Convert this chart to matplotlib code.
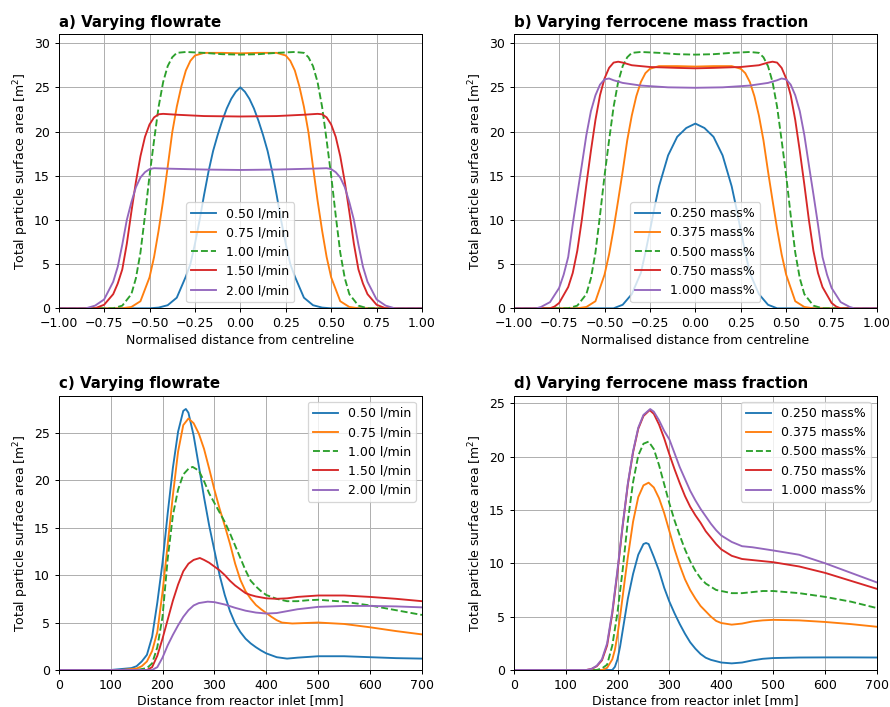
import matplotlib
matplotlib.use("Agg")
import matplotlib.pyplot as plt
import numpy as np

# ---- radial profiles (left half, x <= 0); right half is the mirror image
xa_blue = [-1, -0.5, -0.45, -0.4, -0.35, -0.3, -0.275, -0.25, -0.225, -0.2, -0.175, -0.15, -0.125, -0.1, -0.075, -0.05, -0.025, 0]
ya_blue = [0, 0, 0.08, 0.35, 1.2, 3.6, 5.0, 7.3, 9.9, 12.8, 15.5, 17.8, 19.6, 21.2, 22.6, 23.7, 24.5, 25.0]
xa_orange = [-1, -0.65, -0.6, -0.55, -0.5, -0.475, -0.45, -0.425, -0.4, -0.375, -0.35, -0.325, -0.3, -0.275, -0.25, -0.2, -0.1, 0]
ya_orange = [0, 0, 0.15, 0.8, 3.5, 5.8, 8.8, 12.2, 16.0, 19.9, 22.8, 25.1, 26.9, 28.0, 28.6, 28.9, 28.9, 28.85]
xa_green = [-1, -0.7, -0.65, -0.6, -0.575, -0.55, -0.525, -0.5, -0.475, -0.45, -0.425, -0.4, -0.375, -0.35, -0.3, -0.2, -0.1, 0]
ya_green = [0, 0, 0.3, 1.6, 3.4, 6.3, 10.5, 15.0, 19.0, 22.8, 25.6, 27.4, 28.4, 28.9, 29.0, 28.9, 28.75, 28.7]
xa_red = [-1, -0.8, -0.75, -0.7, -0.675, -0.65, -0.625, -0.6, -0.575, -0.55, -0.525, -0.5, -0.475, -0.45, -0.425, -0.35, -0.2, 0]
ya_red = [0, 0, 0.4, 1.6, 2.8, 4.4, 7.3, 10.9, 14.3, 17.2, 19.4, 20.8, 21.6, 21.95, 22.0, 21.9, 21.75, 21.7]
xa_purple = [-1, -0.85, -0.8, -0.75, -0.7, -0.675, -0.65, -0.625, -0.6, -0.575, -0.55, -0.525, -0.5, -0.475, -0.4, -0.2, 0]
ya_purple = [0, 0, 0.3, 1.0, 3.0, 4.7, 7.2, 10.0, 12.0, 13.7, 14.8, 15.4, 15.75, 15.85, 15.8, 15.7, 15.65]

xb_blue = [-1, -0.45, -0.4, -0.35, -0.3, -0.275, -0.25, -0.225, -0.2, -0.15, -0.1, -0.05, 0]
yb_blue = [0, 0, 0.4, 1.6, 4.0, 6.3, 8.8, 11.4, 13.8, 17.3, 19.4, 20.4, 20.9]
xb_orange = [-1, -0.65, -0.6, -0.55, -0.5, -0.475, -0.45, -0.425, -0.4, -0.375, -0.35, -0.325, -0.3, -0.275, -0.25, -0.2, -0.1, 0]
yb_orange = [0, 0, 0.15, 0.8, 3.8, 6.1, 9.0, 12.2, 15.5, 19.0, 21.8, 24.0, 25.6, 26.6, 27.1, 27.4, 27.4, 27.35]
xb_green = xa_green
yb_green = ya_green
xb_red = [-1, -0.8, -0.775, -0.75, -0.7, -0.675, -0.65, -0.625, -0.6, -0.575, -0.55, -0.525, -0.5, -0.475, -0.45, -0.425, -0.4, -0.35, -0.25, -0.1, 0]
yb_red = [0, 0, 0.2, 0.6, 2.4, 4.0, 6.5, 10.0, 14.0, 17.8, 21.3, 24.1, 26.0, 27.2, 27.8, 27.9, 27.8, 27.5, 27.3, 27.2, 27.15]
xb_purple = [-1, -0.875, -0.85, -0.8, -0.75, -0.725, -0.7, -0.675, -0.65, -0.625, -0.6, -0.575, -0.55, -0.525, -0.5, -0.475, -0.45, -0.4, -0.3, -0.15, 0]
yb_purple = [0, 0, 0.15, 0.7, 2.3, 3.8, 5.8, 9.5, 12.9, 16.2, 19.6, 22.3, 24.1, 25.3, 25.9, 26.0, 25.8, 25.5, 25.2, 25.0, 24.95]

# ---- axial profiles
xc_blue = [0, 100, 140, 150, 160, 170, 180, 190, 200, 210, 220, 230, 240, 245, 250, 260, 270, 280, 290, 300, 310, 320, 330, 340, 350, 360, 370, 380, 390, 400, 420, 440, 460, 500, 550, 600, 650, 700]
yc_blue = [0, 0, 0.2, 0.4, 0.9, 1.6, 3.5, 7.1, 11.3, 16.5, 21.3, 25.1, 27.3, 27.5, 27.1, 24.7, 21.5, 18.2, 15.2, 12.6, 10.0, 7.9, 6.2, 4.9, 4.0, 3.3, 2.8, 2.4, 2.05, 1.75, 1.35, 1.2, 1.3, 1.45, 1.45, 1.35, 1.25, 1.2]
xc_orange = [0, 120, 150, 160, 170, 180, 190, 200, 210, 220, 230, 240, 250, 260, 270, 280, 290, 300, 310, 320, 330, 340, 350, 360, 370, 380, 390, 400, 410, 420, 430, 450, 500, 550, 600, 650, 700]
yc_orange = [0, 0, 0.15, 0.4, 0.9, 2.0, 4.0, 8.2, 13.2, 18.4, 23.0, 25.8, 26.5, 26.0, 24.9, 23.3, 21.2, 19.0, 17.0, 15.2, 13.3, 11.2, 9.5, 8.3, 7.5, 6.85, 6.4, 6.0, 5.6, 5.25, 5.0, 4.9, 5.0, 4.85, 4.5, 4.1, 3.75]
xc_green = [0, 150, 170, 180, 190, 200, 210, 220, 230, 240, 250, 258, 270, 280, 290, 300, 310, 320, 330, 340, 350, 360, 370, 380, 390, 400, 420, 440, 460, 480, 500, 550, 600, 650, 700]
yc_green = [0, 0, 0.2, 0.7, 2.4, 5.6, 11.7, 16.3, 19.0, 20.6, 21.2, 21.4, 21.0, 19.9, 18.6, 17.6, 16.6, 15.6, 14.4, 13.1, 11.8, 10.5, 9.4, 8.8, 8.3, 7.9, 7.5, 7.25, 7.25, 7.35, 7.4, 7.2, 6.8, 6.3, 5.8]
xc_red = [0, 170, 180, 190, 200, 210, 220, 230, 240, 250, 260, 272, 280, 290, 300, 310, 320, 330, 340, 350, 360, 370, 380, 390, 400, 420, 440, 460, 500, 550, 600, 650, 700]
yc_red = [0, 0, 0.3, 1.5, 3.3, 5.3, 7.3, 9.0, 10.4, 11.2, 11.6, 11.8, 11.6, 11.3, 10.9, 10.5, 10.0, 9.4, 8.9, 8.5, 8.1, 7.9, 7.75, 7.65, 7.55, 7.5, 7.55, 7.7, 7.85, 7.85, 7.7, 7.5, 7.25]
xc_purple = [0, 180, 190, 200, 210, 220, 230, 240, 250, 260, 270, 287, 300, 320, 340, 360, 380, 400, 420, 440, 460, 500, 550, 600, 650, 700]
yc_purple = [0, 0, 0.3, 1.3, 2.6, 3.7, 4.7, 5.6, 6.3, 6.8, 7.05, 7.2, 7.15, 6.9, 6.55, 6.25, 6.05, 5.95, 6.0, 6.2, 6.4, 6.65, 6.75, 6.75, 6.7, 6.6]

xd_blue = [0, 190, 195, 200, 205, 210, 215, 220, 230, 240, 250, 255, 260, 270, 280, 290, 300, 310, 320, 330, 340, 350, 360, 370, 380, 400, 420, 440, 460, 480, 500, 550, 600, 650, 700]
yd_blue = [0, 0, 0.3, 1.0, 2.2, 3.7, 5.2, 6.7, 9.0, 10.8, 11.8, 11.9, 11.8, 10.6, 9.3, 7.7, 6.4, 5.3, 4.3, 3.4, 2.6, 2.0, 1.5, 1.15, 0.95, 0.7, 0.62, 0.7, 0.9, 1.05, 1.12, 1.17, 1.18, 1.18, 1.17]
xd_orange = [0, 170, 180, 190, 195, 200, 205, 210, 215, 220, 230, 240, 250, 260, 270, 280, 290, 300, 310, 320, 330, 340, 350, 360, 370, 380, 390, 400, 420, 440, 460, 480, 500, 550, 600, 650, 700]
yd_orange = [0, 0, 0.2, 1.0, 1.9, 3.3, 5.0, 6.9, 8.8, 10.6, 13.9, 16.2, 17.3, 17.55, 17.1, 16.1, 14.7, 13.0, 11.3, 9.8, 8.5, 7.5, 6.7, 6.0, 5.5, 5.0, 4.6, 4.4, 4.25, 4.35, 4.55, 4.65, 4.7, 4.65, 4.5, 4.3, 4.05]
xd_green = [0, 160, 170, 180, 190, 200, 210, 220, 230, 240, 250, 260, 270, 280, 290, 300, 310, 320, 330, 340, 350, 360, 370, 380, 390, 400, 420, 440, 460, 480, 500, 550, 600, 650, 700]
yd_green = [0, 0, 0.15, 0.5, 2.3, 5.4, 9.4, 14.0, 17.6, 20.1, 21.2, 21.4, 20.7, 19.2, 17.4, 15.6, 14.0, 12.6, 11.3, 10.2, 9.3, 8.6, 8.1, 7.8, 7.5, 7.4, 7.2, 7.2, 7.3, 7.4, 7.4, 7.2, 6.85, 6.4, 5.8]
xd_red = [0, 140, 150, 160, 170, 180, 190, 200, 210, 220, 230, 240, 250, 262, 270, 280, 290, 300, 310, 320, 330, 340, 350, 360, 370, 380, 390, 400, 420, 440, 460, 480, 500, 550, 600, 650, 700]
yd_red = [0, 0, 0.1, 0.35, 0.9, 2.3, 5.3, 9.2, 13.5, 17.4, 20.4, 22.6, 23.8, 24.35, 24.0, 23.0, 21.7, 20.2, 18.8, 17.5, 16.3, 15.3, 14.5, 13.8, 13.0, 12.4, 11.8, 11.3, 10.7, 10.4, 10.3, 10.2, 10.1, 9.7, 9.1, 8.35, 7.6]
xd_purple = [0, 140, 150, 160, 170, 180, 190, 200, 210, 220, 230, 240, 250, 263, 270, 280, 290, 300, 310, 320, 330, 340, 350, 360, 370, 380, 390, 400, 420, 440, 460, 480, 500, 550, 600, 650, 700]
yd_purple = [0, 0, 0.1, 0.4, 1.0, 2.5, 5.5, 9.4, 13.6, 17.5, 20.5, 22.7, 23.9, 24.45, 24.2, 23.4, 22.4, 21.6, 20.3, 19.0, 17.9, 16.8, 15.9, 15.1, 14.4, 13.7, 13.1, 12.6, 12.0, 11.6, 11.5, 11.35, 11.2, 10.8, 10.0, 9.1, 8.2]

flow_labels = ['0.50 l/min', '0.75 l/min', '1.00 l/min', '1.50 l/min', '2.00 l/min']
mass_labels = ['0.250 mass%', '0.375 mass%', '0.500 mass%', '0.750 mass%', '1.000 mass%']

colors = ['#1f77b4', '#ff7f0e', '#2ca02c', '#d62728', '#9467bd']
styles = ['-', '-', '--', '-', '-']


def mirror(x, y):
    x = np.asarray(x, float)
    y = np.asarray(y, float)
    return np.concatenate([x, -x[-2::-1]]), np.concatenate([y, y[-2::-1]])


fig = plt.figure(figsize=(890/90, 707/90), dpi=90)
ax_a = fig.add_axes([58.7/890, 1-308.3/707, 363.3/890, 274/707])
ax_b = fig.add_axes([513.7/890, 1-308.3/707, 363.3/890, 274/707])
ax_c = fig.add_axes([58.7/890, 1-670/707, 363.3/890, 274.3/707])
ax_d = fig.add_axes([513.7/890, 1-670/707, 363.3/890, 274.3/707])

top_a = [(xa_blue, ya_blue), (xa_orange, ya_orange), (xa_green, ya_green), (xa_red, ya_red), (xa_purple, ya_purple)]
top_b = [(xb_blue, yb_blue), (xb_orange, yb_orange), (xb_green, yb_green), (xb_red, yb_red), (xb_purple, yb_purple)]
bot_c = [(xc_blue, yc_blue), (xc_orange, yc_orange), (xc_green, yc_green), (xc_red, yc_red), (xc_purple, yc_purple)]
bot_d = [(xd_blue, yd_blue), (xd_orange, yd_orange), (xd_green, yd_green), (xd_red, yd_red), (xd_purple, yd_purple)]

for ax, series, labels in [(ax_a, top_a, flow_labels), (ax_b, top_b, mass_labels)]:
    for (x, y), lab, c, ls in zip(series, labels, colors, styles):
        xx, yy = mirror(x, y)
        ax.plot(xx, yy, ls, color=c, lw=1.5, label=lab)
    ax.set_xlim(-1, 1)
    ax.set_ylim(0, 31)
    ax.set_xticks(np.arange(-1, 1.01, 0.25))
    ax.set_xlabel('Normalised distance from centreline', labelpad=3)
    ax.legend(loc='lower center')

for ax, series, labels, ymax in [(ax_c, bot_c, flow_labels, 28.9), (ax_d, bot_d, mass_labels, 25.7)]:
    for (x, y), lab, c, ls in zip(series, labels, colors, styles):
        ax.plot(x, y, ls, color=c, lw=1.5, label=lab)
    ax.set_xlim(0, 700)
    ax.set_ylim(0, ymax)
    ax.set_xlabel('Distance from reactor inlet [mm]', labelpad=1.5)
    ax.legend(loc='upper right')

titles = ['a) Varying flowrate', 'b) Varying ferrocene mass fraction',
          'c) Varying flowrate', 'd) Varying ferrocene mass fraction']
for ax, t in zip([ax_a, ax_b, ax_c, ax_d], titles):
    ax.set_title(t, loc='left', fontweight='bold', fontsize=12)
    ax.set_ylabel('Total particle surface area [m$^2$]', labelpad=2.5)
    ax.grid(True, color='#b0b0b0', lw=0.8)

fig.savefig('out.png', dpi=90)
